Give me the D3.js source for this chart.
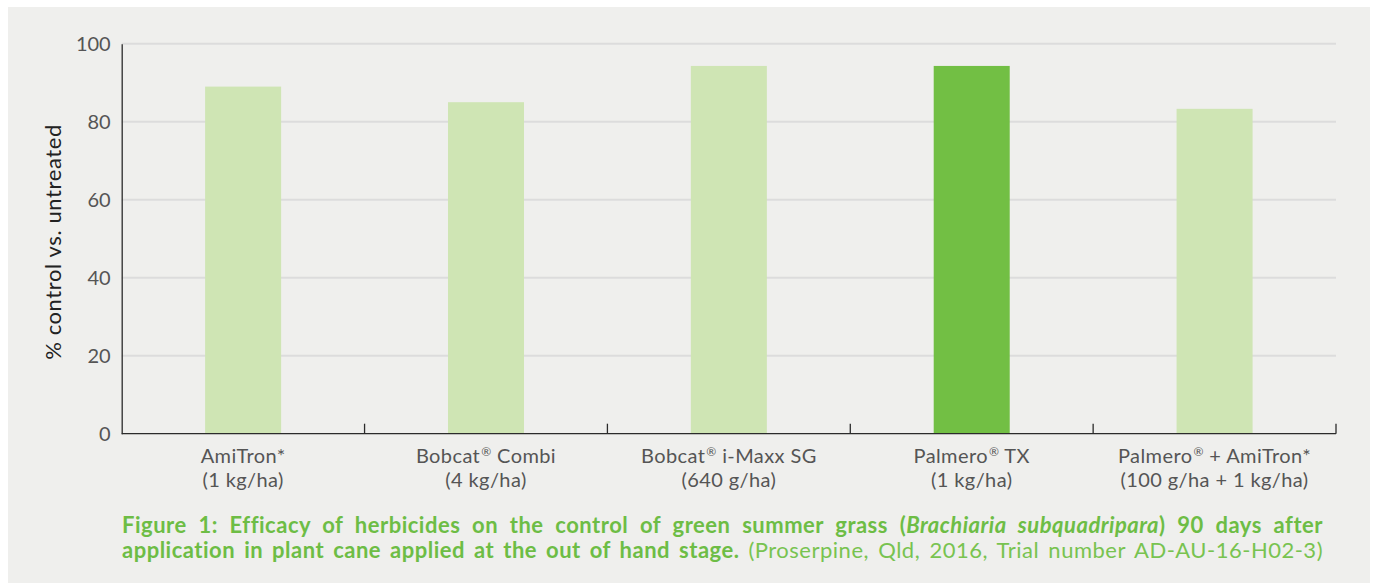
<!DOCTYPE html>
<html><head><meta charset="utf-8">
<script src="https://cdn.jsdelivr.net/npm/d3@7"></script>
<style>
html,body{margin:0;padding:0;background:#fff;}
svg{display:block;}
text{font-family:Lato,"Noto Sans",sans-serif;}
</style></head>
<body>
<svg id="chart" width="1375" height="583"></svg>
<script>
const categories = ["AmiTron*", "Bobcat® Combi", "Bobcat® i-Maxx SG", "Palmero® TX", "Palmero® + AmiTron*"];
const rates = ["(1 kg/ha)", "(4 kg/ha)", "(640 g/ha)", "(1 kg/ha)", "(100 g/ha + 1 kg/ha)"];
const values = [89, 85, 94.3, 94.3, 83.3];
const highlighted = ["Palmero® TX"];
const yTicks = [0, 20, 40, 60, 80, 100];
const yLabel = "% control vs. untreated";
const captionLine1 = [
  {t: "Figure 1: Efficacy of herbicides on the control of green summer grass (", w: 700, s: "normal"},
  {t: "Brachiaria subquadripara", w: 700, s: "italic"},
  {t: ") 90 days after", w: 700, s: "normal"}
];
const captionLine2 = [
  {t: "application in plant cane applied at the out of hand stage. ", w: 700, s: "normal"},
  {t: "(Proserpine, Qld, 2016, Trial number AD-AU-16-H02-3)", w: 400, s: "normal"}
];

const svg = d3.select("#chart");
svg.append("rect").attr("x", 8).attr("y", 7).attr("width", 1362).attr("height", 576).attr("fill", "#efefed");

const m = {left: 121.7, right: 1336, top: 43.7, bottom: 433.7};
const pad = 0.687;
const x = d3.scaleBand().domain(categories).range([m.left, m.right]).paddingInner(pad).paddingOuter(pad / 2);
const y = d3.scaleLinear().domain([0, 100]).range([m.bottom, m.top]);

// gridlines
svg.append("g").selectAll("line").data(yTicks.filter(d => d > 0)).join("line")
  .attr("x1", m.left).attr("x2", m.right).attr("y1", d => y(d)).attr("y2", d => y(d))
  .attr("stroke", "#dcdcdc").attr("stroke-width", 2);

// bars
svg.append("g").selectAll("rect").data(categories).join("rect")
  .attr("x", d => x(d)).attr("width", x.bandwidth())
  .attr("y", (d, i) => y(values[i])).attr("height", (d, i) => y(0) - y(values[i]))
  .attr("fill", d => highlighted.includes(d) ? "#72bf44" : "#cfe5b4");

// y axis
const yAxis = svg.append("g").attr("transform", `translate(${m.left},0)`)
  .call(d3.axisLeft(y).tickValues(yTicks).tickSize(0).tickPadding(11));
yAxis.select(".domain").attr("stroke", "#2b2b2b").attr("stroke-width", 1.3);
yAxis.selectAll("text").attr("font-size", 20).attr("fill", "#555").attr("font-family", "Lato,sans-serif");

// x axis with boundary ticks
const xg = svg.append("g");
xg.append("line").attr("x1", m.left).attr("x2", m.right).attr("y1", m.bottom).attr("y2", m.bottom)
  .attr("stroke", "#2b2b2b").attr("stroke-width", 1.3);
const half = (x.step() - x.bandwidth()) / 2;
const bounds = categories.slice(1).map(c => x(c) - half).concat([m.right]);
xg.selectAll("line.tk").data(bounds).join("line").attr("class", "tk")
  .attr("x1", d => d).attr("x2", d => d).attr("y1", m.bottom).attr("y2", m.bottom - 10)
  .attr("stroke", "#2b2b2b").attr("stroke-width", 1.3);

function addWithReg(sel, str) {
  const parts = str.split("®");
  parts.forEach((p, i) => {
    if (p.length) {
      const ts = sel.append("tspan").text(p);
      if (i > 0) ts.attr("dy", 7);
    }
    if (i < parts.length - 1) {
      sel.append("tspan").text("®").attr("font-size", 12).attr("dy", -7).attr("dx", 1);
    }
  });
}
categories.forEach((c, i) => {
  const cx = x(c) + x.bandwidth() / 2;
  const t1 = svg.append("text").attr("x", cx).attr("y", 463).attr("text-anchor", "middle")
    .attr("font-size", 20).attr("letter-spacing", 0.4).attr("fill", "#555");
  addWithReg(t1, c);
  svg.append("text").attr("x", cx).attr("y", 487).attr("text-anchor", "middle")
    .attr("font-size", 20).attr("letter-spacing", 0.4).attr("fill", "#555").text(rates[i]);
});

// y label
svg.append("text").attr("transform", "translate(61,242) rotate(-90)").attr("text-anchor", "middle")
  .attr("font-size", 22).attr("letter-spacing", 0.6).attr("fill", "#222").text(yLabel);

// caption
function caption(parts, yy) {
  const t = svg.append("text").attr("x", 122).attr("y", yy).attr("font-size", 22)
    .attr("letter-spacing", 0.5).attr("fill", "#6dbd45");
  parts.forEach(p => t.append("tspan").text(p.t).attr("font-weight", p.w).attr("font-style", p.s)
    .attr("fill", p.w === 400 ? "#78c350" : "#6dbd45"));
  const target = 1323 - 122;
  const len = t.node().getComputedTextLength();
  const nSpaces = parts.map(p => p.t).join("").trim().split(" ").length - 1;
  if (nSpaces > 0) t.attr("word-spacing", Math.max(0, (target - len) / nSpaces));
}
caption(captionLine1, 533);
caption(captionLine2, 558);
</script>
</body></html>
